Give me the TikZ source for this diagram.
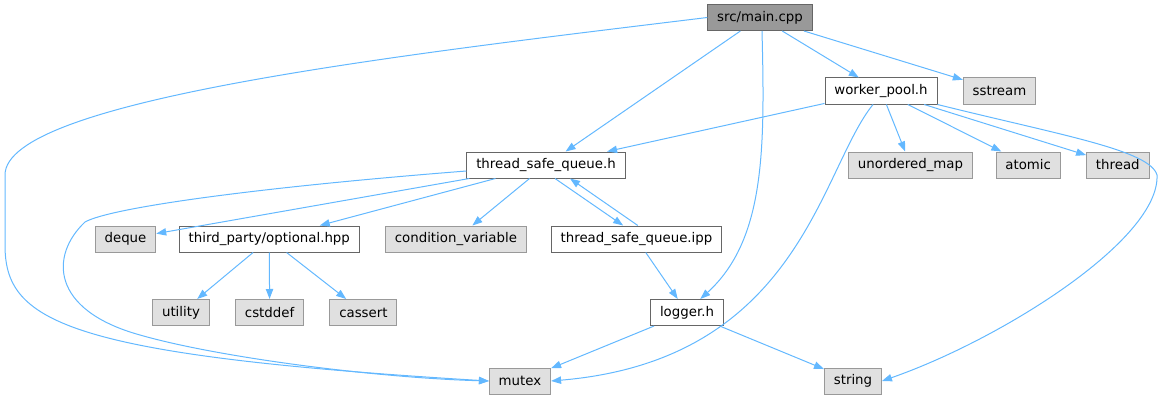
\documentclass[tikz,border=0pt]{standalone}
\usepackage{fontspec}
\setmainfont{DejaVu Sans}
\usetikzlibrary{arrows.meta, positioning}
\definecolor{cedge}{HTML}{63B8FF}
\definecolor{cfill}{HTML}{E0E0E0}
\definecolor{cline}{HTML}{999999}
\definecolor{cdark}{HTML}{666666}

\begin{document}
\begin{tikzpicture}[
    x=0.75pt, y=-0.75pt,
    node distance=36pt and 18pt,
    hdr/.style={draw=cdark, fill=white, line width=0.75pt, minimum height=19.5pt, inner xsep=7pt, inner ysep=0pt, font=\fontsize{10}{12}\selectfont},
    sys/.style={hdr, draw=cline, fill=cfill},
    src/.style={hdr, fill=cline},
    inc/.style={-{Triangle[length=7.5pt, width=5.5pt]}, cedge, line width=0.75pt}
]
\useasboundingbox (0,0) rectangle (1174,403);

%% top
\node[src] (main) at (760,17.5) {src/main.cpp};
\node[hdr] (worker) at (881,91) {worker\_pool.h};
\node[sys, right=19pt of worker] (sstream) {sstream};

%% second row
\node[hdr] (tsq) at (546,165) {thread\_safe\_queue.h};
\node[sys] (umap) at (910.5,165) {unordered\_map};
\node[sys, right=17pt of umap] (atomic) {atomic};
\node[sys, right=19pt of atomic] (thread) {thread};

%% third row
\node[sys] (deque) at (125.5,239) {deque};
\node[hdr, right=17pt of deque] (optional) {third\_party/optional.hpp};
\node[sys, right=19pt of optional] (condvar) {condition\_variable};
\node[hdr, right=18pt of condvar] (ipp) {thread\_safe\_queue.ipp};

%% fourth row
\node[sys] (utility) at (181,312.5) {utility};
\node[sys, right=19pt of utility] (cstddef) {cstddef};
\node[sys, right=19pt of cstddef] (cassert) {cassert};
\node[hdr] (logger) at (687,312.5) {logger.h};

%% bottom
\node[sys] (mutex) at (520,381) {mutex};
\node[sys] (string) at (853,381) {string};

%% includes of main.cpp
\draw[inc] (main.west) .. controls (400,55) and (5,100) .. (5,175) -- (5,245) .. controls (5,320) and (60,355) .. (mutex.west);
\draw[inc] (main) -- (tsq);
\draw[inc] ([xshift=1.5pt]main.south) .. controls (765,150) and (765,240) .. ([xshift=10pt]logger.north);
\draw[inc] (main) -- (worker);
\draw[inc] (main) -- (sstream);

%% includes of worker_pool.h
\draw[inc] (worker) -- (tsq);
\draw[inc] ([xshift=-6pt]worker.south) .. controls (820,170) and (800,360) .. (mutex.east);
\draw[inc] (worker) -- (umap);
\draw[inc] (worker) -- (atomic);
\draw[inc] (worker) -- (thread);
\draw[inc] (worker.south east) .. controls (1060,135) and (1150,150) .. (1157,175) .. controls (1160,240) and (1000,340) .. (string.east);

%% includes of thread_safe_queue.h
\draw[inc] ([yshift=-4.5pt]tsq.west) .. controls (250,188) and (110,208) .. (85,222) .. controls (50,255) and (50,310) .. (140,335) .. controls (220,358) and (380,378) .. (mutex.west);
\draw[inc] (tsq) -- (deque);
\draw[inc] (tsq) -- (optional);
\draw[inc] (tsq) -- (condvar);
\draw[inc] ([xshift=6.75pt]tsq.south) -- ([xshift=-10pt]ipp.north);
\draw[inc] ([xshift=1pt]ipp.north) -- ([xshift=18pt]tsq.south);
\draw[inc] (ipp) -- (logger);

%% includes of optional.hpp
\draw[inc] (optional) -- (utility);
\draw[inc] (optional) -- (cstddef);
\draw[inc] (optional) -- (cassert);

%% includes of logger.h
\draw[inc] (logger) -- (mutex);
\draw[inc] (logger) -- (string);

\end{tikzpicture}
\end{document}
